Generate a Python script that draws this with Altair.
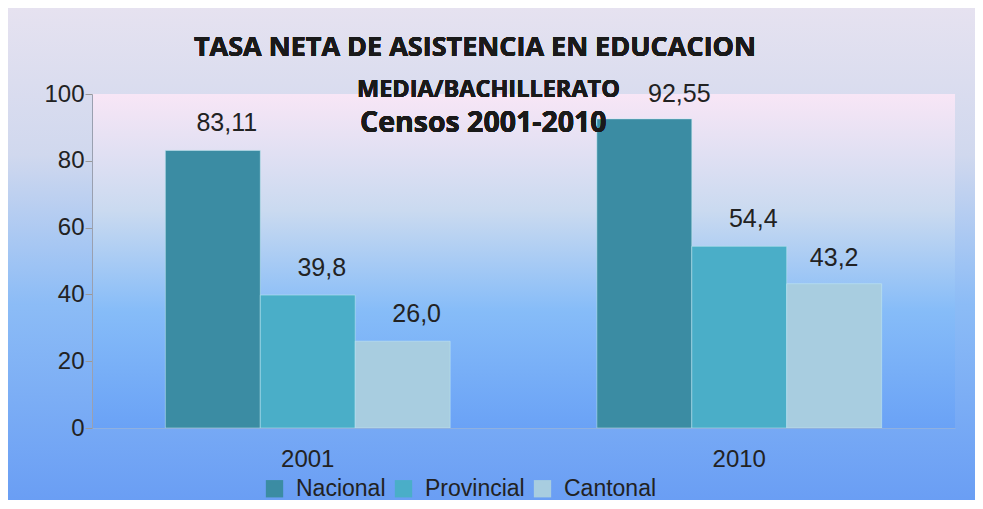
import altair as alt
import pandas as pd

years = ["2001", "2010"]
levels = ["Nacional", "Provincial", "Cantonal"]
values_2001 = [83.11, 39.8, 26.0]
values_2010 = [92.55, 54.4, 43.2]
labels_2001 = ["83,11", "39,8", "26,0"]
labels_2010 = ["92,55", "54,4", "43,2"]
colors = ["#3b8ca3", "#4aaec8", "#a8cde0"]
y_ticks = [0, 20, 40, 60, 80, 100]

rows = []
for yr, vals, labs in [("2001", values_2001, labels_2001), ("2010", values_2010, labels_2010)]:
    for lev, v, l in zip(levels, vals, labs):
        rows.append({"year": yr, "level": lev, "value": v, "label": l})
df = pd.DataFrame(rows)

W, H = 863, 334
PL, PT, PR, PB = 84, 86, 20, 72

outer_grad = alt.LinearGradient(
    gradient="linear", x1=0, x2=0, y1=0, y2=1,
    stops=[
        alt.GradientStop(offset=0, color="#e6e2f0"),
        alt.GradientStop(offset=0.3, color="#d0d8ee"),
        alt.GradientStop(offset=0.6, color="#8cbcf6"),
        alt.GradientStop(offset=1, color="#6a9ef4"),
    ],
)
inner_grad = alt.LinearGradient(
    gradient="linear", x1=0, x2=0, y1=0, y2=1,
    stops=[
        alt.GradientStop(offset=0, color="#f8e6f6"),
        alt.GradientStop(offset=0.35, color="#cadaf0"),
        alt.GradientStop(offset=0.65, color="#86bcf8"),
        alt.GradientStop(offset=1, color="#6aa2f6"),
    ],
)

base = alt.Chart(df)

bg_outer = base.mark_rect(fill=outer_grad).encode(
    x=alt.value(-PL), x2=alt.value(W + PR), y=alt.value(-PT), y2=alt.value(H + PB)
)
bg_inner = base.mark_rect(fill=inner_grad).encode(
    x=alt.value(0), x2=alt.value(W), y=alt.value(0), y2=alt.value(H)
)

xenc = alt.X("year:N", title=None, sort=years,
             scale=alt.Scale(paddingInner=0.34, paddingOuter=0.17),
             axis=alt.Axis(labelAngle=0, labelFontSize=24, labelColor="#222222",
                           labelFont="Liberation Sans", ticks=False, labelPadding=19,
                           domainColor="#8fb0e0", zindex=1))
yenc = alt.Y("value:Q", title=None, scale=alt.Scale(domain=[0, 100]),
             axis=alt.Axis(values=y_ticks, grid=False, labelFontSize=24,
                           labelColor="#222222", labelFont="Liberation Sans",
                           tickColor="#999999", tickSize=7, domainColor="#9aa0b0",
                           labelPadding=1, zindex=1))

bars = base.mark_bar(stroke="#c8eef4", strokeWidth=1, strokeOpacity=0.5).encode(
    x=xenc,
    xOffset=alt.XOffset("level:N", sort=levels),
    y=yenc,
    color=alt.Color("level:N", sort=levels, scale=alt.Scale(domain=levels, range=colors),
                    legend=alt.Legend(title=None, orient="none", direction="horizontal",
                                      legendX=171, legendY=383, symbolType="square",
                                      symbolSize=300, symbolStrokeWidth=0,
                                      labelFontSize=23, labelFont="Liberation Sans",
                                      labelColor="#222222", labelOffset=10,
                                      columnPadding=6, zindex=1)),
)


def label_layer(filter_expr, dx, dy):
    return base.transform_filter(filter_expr).mark_text(
        fontSize=25, font="Liberation Sans", color="#222222",
        baseline="middle", dx=dx, dy=dy).encode(
        x=alt.X("year:N", sort=years),
        xOffset=alt.XOffset("level:N", sort=levels),
        y="value:Q",
        text="label:N",
    )


texts_main = label_layer("datum.label != '92,55' && datum.label != '43,2'", 14, -27)
text_9255 = label_layer("datum.label == '92,55'", 35, -25)
text_432 = label_layer("datum.label == '43,2'", 0, -26)

title1 = base.mark_text(text="TASA NETA DE ASISTENCIA EN EDUCACION", font="Open Sans",
                        fontWeight="bold", fontSize=27, color="#1a1a1a",
                        align="center", baseline="middle").encode(
    x=alt.value(383), y=alt.value(-46))
title2 = base.mark_text(text="MEDIA/BACHILLERATO", font="Open Sans", fontWeight="bold",
                        fontSize=23.5, color="#1a1a1a", align="left", baseline="alphabetic").encode(
    x=alt.value(265), y=alt.value(3))
title3 = base.mark_text(text="Censos 2001-2010", font="Open Sans", fontWeight="bold",
                        fontSize=28.5, color="#1a1a1a", align="left", baseline="alphabetic").encode(
    x=alt.value(268), y=alt.value(38))

chart = alt.layer(bg_outer, bg_inner, bars, texts_main, text_9255, text_432,
                  title1, title2, title3).properties(
    width=W, height=H,
    autosize=alt.AutoSizeParams(type="none"),
    padding={"left": PL, "top": PT, "right": PR, "bottom": PB},
).configure_view(stroke=None).configure(background="#ffffff")

chart.save("out.html", embed_options={"renderer": "svg", "actions": False})
